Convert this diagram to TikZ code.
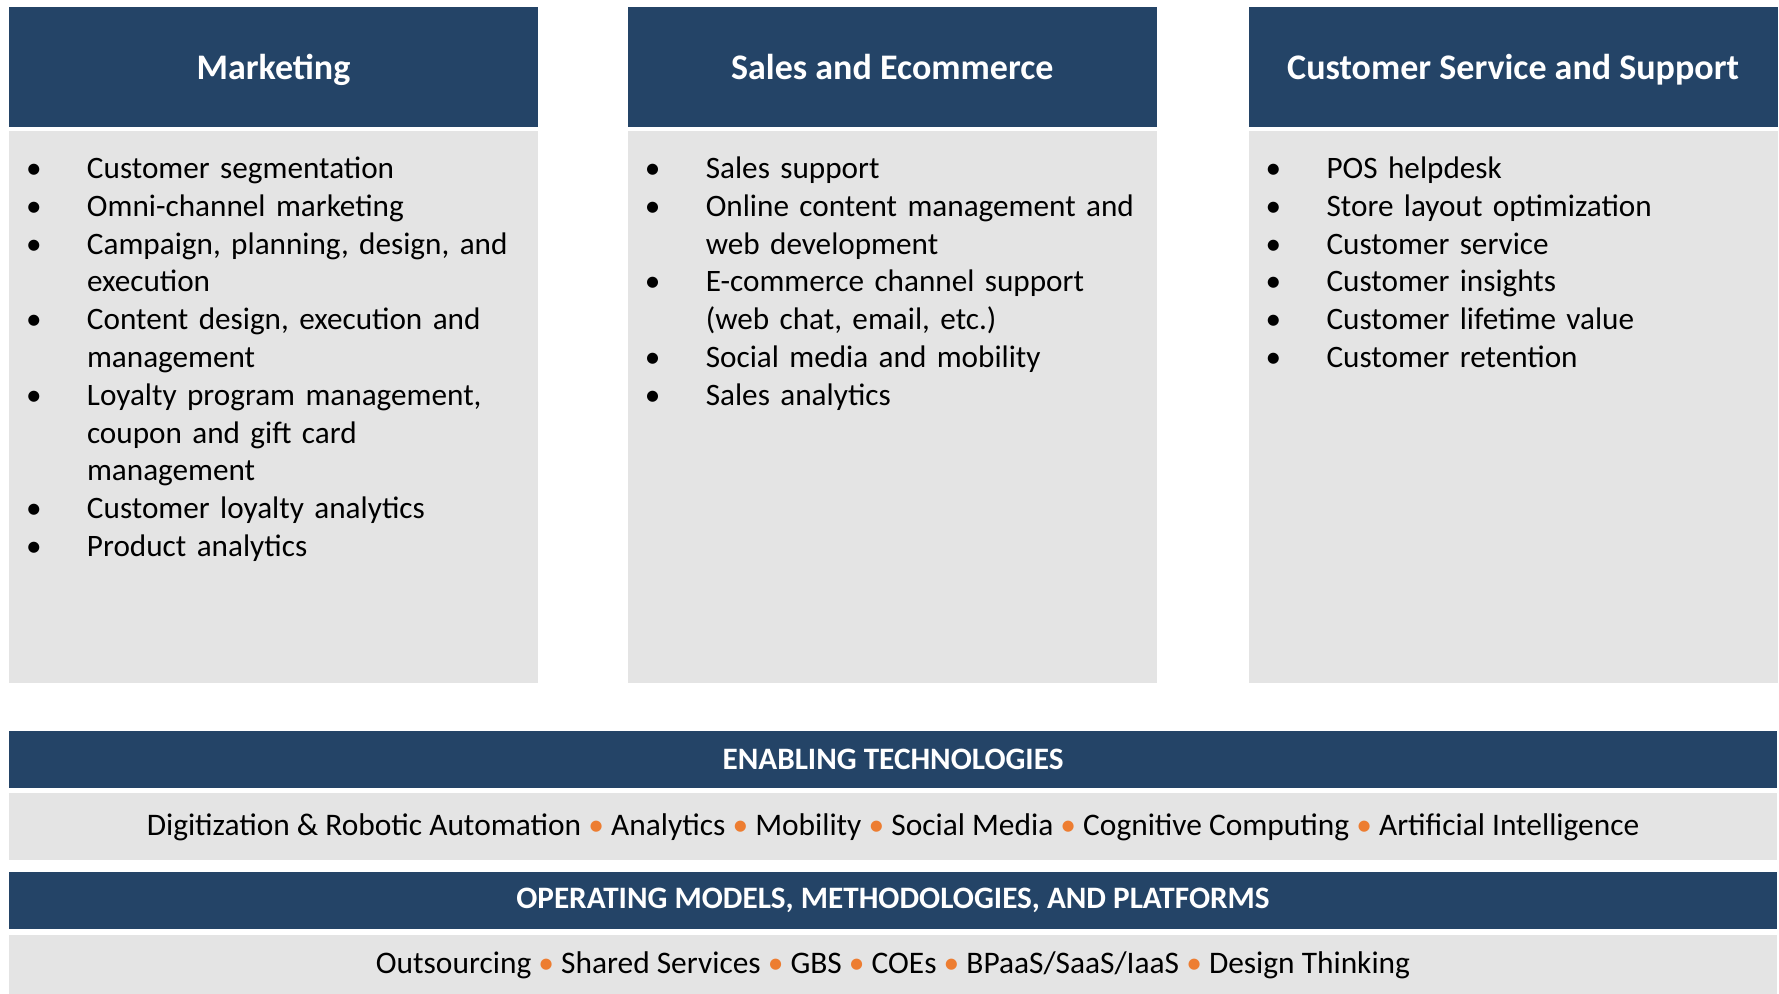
\documentclass[tikz,border=0pt]{standalone}
\usepackage{fontspec}
\setmainfont{Carlito}
\usetikzlibrary{positioning}
\definecolor{hdnavy}{RGB}{36,68,103}
\definecolor{bodygray}{RGB}{228,228,228}
\definecolor{dotorange}{RGB}{237,125,49}
\tikzstyle{colhead} = [rectangle, fill=hdnavy, text=white, font=\fontsize{18}{22}\selectfont\bfseries, text height=13pt, text depth=0pt, minimum width=264.5pt, minimum height=60pt, inner sep=0pt]
\tikzstyle{colbody} = [rectangle, fill=bodygray, minimum width=264.5pt, minimum height=276pt, inner sep=0pt]
\tikzstyle{itemlist} = [anchor=north west, inner sep=0pt, text width=254pt, align=left, font=\fontsize{15.6}{18.9}\selectfont]
\tikzstyle{bandhead} = [rectangle, fill=hdnavy, text=white, font=\fontsize{15.6}{18}\selectfont\bfseries, minimum width=884pt, minimum height=28.5pt, inner sep=0pt]
\tikzstyle{bandbody} = [rectangle, fill=bodygray, font=\fontsize{15.7}{18}\selectfont, minimum width=884pt, inner sep=0pt]
% one bullet line, hanging under its own text
\newcommand{\bul}[1]{\par\hangindent=30.5pt\hangafter=1\noindent\makebox[30.5pt][l]{\textbullet}#1}
\newcommand{\techdot}{ {\color{dotorange}\textbullet} }

\begin{document}
\begin{tikzpicture}[x=0.5pt, y=-0.5pt]
\useasboundingbox (0,0) rectangle (1779,994);
% three columns
\node (mkthead) [colhead] at (273.5,67) {Marketing};
\node (salehead) [colhead, right=44.5pt of mkthead] {Sales and Ecommerce};
\node (carehead) [colhead, right=45.5pt of salehead] {Customer Service and Support};
\node (mktbody) [colbody, below=1.5pt of mkthead] {};
\node (salebody) [colbody, below=1.5pt of salehead] {};
\node (carebody) [colbody, below=1.5pt of carehead] {};

\node (mktlist) [itemlist] at ([xshift=8.5pt, yshift=-5pt]mktbody.north west) {%
\bul{Customer segmentation}
\bul{Omni-channel marketing}
\bul{Campaign, planning, design, and\newline execution}
\bul{Content design, execution and\newline management}
\bul{Loyalty program management,\newline coupon and gift card\newline management}
\bul{Customer loyalty analytics}
\bul{Product analytics}};
\node (salelist) [itemlist] at ([xshift=8.5pt, yshift=-5pt]salebody.north west) {%
\bul{Sales support}
\bul{Online content management and\newline web development}
\bul{E-commerce channel support\newline (web chat, email, etc.)}
\bul{Social media and mobility}
\bul{Sales analytics}};
\node (carelist) [itemlist] at ([xshift=8.5pt, yshift=-5pt]carebody.north west) {%
\bul{POS helpdesk}
\bul{Store layout optimization}
\bul{Customer service}
\bul{Customer insights}
\bul{Customer lifetime value}
\bul{Customer retention}};

% bands along the bottom
\node (techhead) [bandhead] at (893,759) {ENABLING TECHNOLOGIES};
\node (techbody) [bandbody, minimum height=33.5pt, below=2.5pt of techhead] {Digitization \& Robotic Automation\techdot Analytics\techdot Mobility\techdot Social Media\techdot Cognitive Computing\techdot Artificial Intelligence};
\node (opshead) [bandhead, below=5.5pt of techbody] {OPERATING MODELS, METHODOLOGIES, AND PLATFORMS};
\node (opsbody) [bandbody, minimum height=30.5pt, below=2.5pt of opshead] {Outsourcing\techdot Shared Services\techdot GBS\techdot COEs\techdot BPaaS/SaaS/IaaS\techdot Design Thinking};
\end{tikzpicture}
\end{document}
